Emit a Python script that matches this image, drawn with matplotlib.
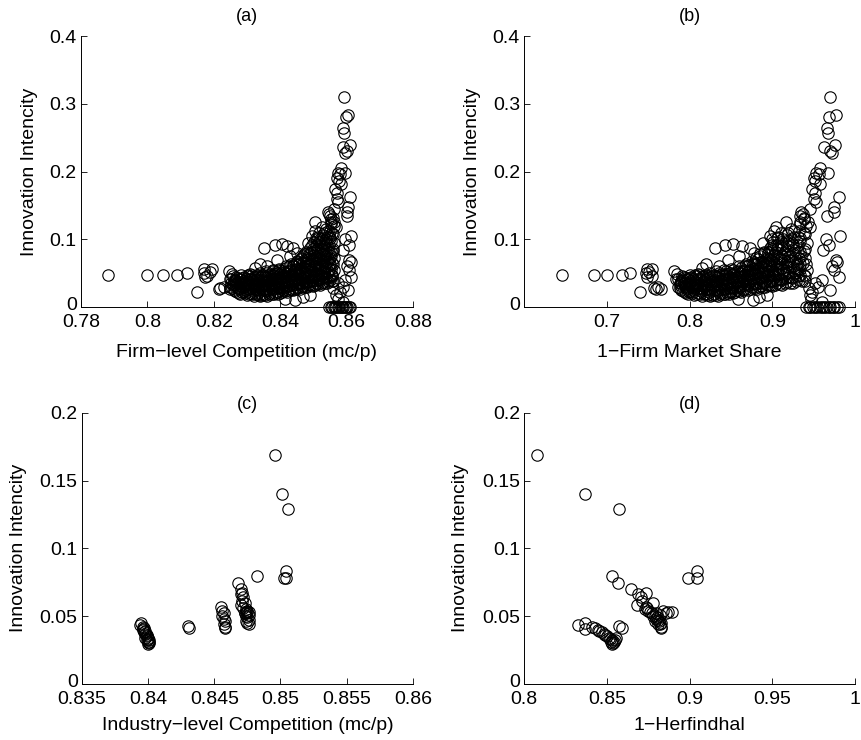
import matplotlib
matplotlib.use('Agg')
import matplotlib.pyplot as plt
from matplotlib.transforms import ScaledTranslation

plt.rcParams['font.family'] = ['Liberation Sans', 'DejaVu Sans']

# ---------------- firm level data (panels a and b share the y values) ----------------
# left tail
tail_innov = [0.047, 0.047, 0.047, 0.047, 0.051, 0.023, 0.050, 0.052, 0.046, 0.044,
              0.056, 0.057, 0.028, 0.030, 0.026, 0.027, 0.049, 0.053]
tail_comp = [0.788, 0.800, 0.8047, 0.809, 0.812, 0.815, 0.817, 0.819, 0.818, 0.8175,
             0.817, 0.8195, 0.822, 0.823, 0.8215, 0.825, 0.8255, 0.8245]
tail_share = [0.646, 0.685, 0.700, 0.718, 0.728, 0.740, 0.747, 0.751, 0.754, 0.749,
              0.748, 0.755, 0.757, 0.762, 0.760, 0.765, 0.785, 0.781]

# dense band, read column by column
blob_innov = [
    0.030, 0.036, 0.042,
    0.025, 0.033, 0.040, 0.046,
    0.022, 0.029, 0.036, 0.043,
    0.020, 0.027, 0.034, 0.041, 0.047,
    0.024, 0.031, 0.038, 0.044,
    0.018, 0.025, 0.032, 0.039, 0.046,
    0.021, 0.028, 0.035, 0.042, 0.049,
    0.017, 0.024, 0.031, 0.038, 0.045,
    0.020, 0.027, 0.034, 0.041, 0.048,
    0.016, 0.023, 0.030, 0.037, 0.044, 0.051,
    0.019, 0.026, 0.033, 0.040, 0.047,
    0.017, 0.024, 0.031, 0.038, 0.045, 0.053,
    0.021, 0.028, 0.035, 0.042, 0.049,
    0.019, 0.026, 0.033, 0.040, 0.047, 0.055,
    0.023, 0.030, 0.037, 0.044, 0.051,
    0.021, 0.028, 0.035, 0.042, 0.049, 0.057,
    0.025, 0.032, 0.039, 0.046, 0.053,
    0.023, 0.030, 0.037, 0.044, 0.051, 0.060,
    0.027, 0.034, 0.041, 0.048, 0.055, 0.063,
    0.025, 0.032, 0.039, 0.046, 0.053, 0.061,
    0.029, 0.036, 0.043, 0.050, 0.057, 0.066,
    0.027, 0.034, 0.041, 0.048, 0.055, 0.063, 0.071,
    0.031, 0.038, 0.045, 0.052, 0.059, 0.067, 0.076,
    0.029, 0.036, 0.043, 0.050, 0.057, 0.065, 0.073, 0.082,
    0.033, 0.040, 0.047, 0.054, 0.061, 0.069, 0.078, 0.088,
    0.031, 0.038, 0.045, 0.052, 0.060, 0.068, 0.077, 0.086, 0.096,
    0.035, 0.042, 0.049, 0.056, 0.064, 0.072, 0.081, 0.091, 0.102,
    0.033, 0.040, 0.047, 0.055, 0.063, 0.071, 0.080, 0.090, 0.100, 0.110,
    0.037, 0.044, 0.051, 0.059, 0.067, 0.075, 0.085, 0.095, 0.106,
    0.035, 0.043, 0.050, 0.058, 0.066, 0.075, 0.084, 0.094, 0.104, 0.116,
    0.040, 0.048, 0.056, 0.064, 0.073, 0.082, 0.092, 0.102, 0.113, 0.125,
    0.038, 0.046, 0.055, 0.064, 0.073, 0.083, 0.095, 0.108, 0.120, 0.132,
]
blob_comp = [
    0.8250, 0.8253, 0.8248,
    0.8260, 0.8257, 0.8263, 0.8259,
    0.8270, 0.8273, 0.8268, 0.8271,
    0.8280, 0.8277, 0.8282, 0.8279, 0.8283,
    0.8290, 0.8293, 0.8288, 0.8291,
    0.8300, 0.8297, 0.8302, 0.8299, 0.8303,
    0.8310, 0.8313, 0.8308, 0.8311, 0.8309,
    0.8320, 0.8317, 0.8322, 0.8319, 0.8321,
    0.8330, 0.8333, 0.8328, 0.8331, 0.8329,
    0.8340, 0.8337, 0.8342, 0.8339, 0.8341, 0.8338,
    0.8350, 0.8353, 0.8348, 0.8351, 0.8349,
    0.8360, 0.8357, 0.8362, 0.8359, 0.8361, 0.8358,
    0.8370, 0.8373, 0.8368, 0.8371, 0.8369,
    0.8380, 0.8377, 0.8382, 0.8379, 0.8381, 0.8378,
    0.8390, 0.8393, 0.8388, 0.8391, 0.8389,
    0.8400, 0.8397, 0.8402, 0.8399, 0.8401, 0.8398,
    0.8410, 0.8413, 0.8408, 0.8411, 0.8409,
    0.8420, 0.8417, 0.8422, 0.8419, 0.8421, 0.8418,
    0.8430, 0.8433, 0.8428, 0.8431, 0.8429, 0.8432,
    0.8440, 0.8437, 0.8442, 0.8439, 0.8441, 0.8438,
    0.8450, 0.8453, 0.8448, 0.8451, 0.8449, 0.8452,
    0.8460, 0.8457, 0.8462, 0.8459, 0.8461, 0.8458, 0.8462,
    0.8470, 0.8473, 0.8468, 0.8471, 0.8469, 0.8472, 0.8468,
    0.8480, 0.8477, 0.8482, 0.8479, 0.8481, 0.8478, 0.8482, 0.8479,
    0.8490, 0.8493, 0.8488, 0.8491, 0.8489, 0.8492, 0.8488, 0.8491,
    0.8500, 0.8497, 0.8502, 0.8499, 0.8501, 0.8498, 0.8502, 0.8499, 0.8501,
    0.8510, 0.8513, 0.8508, 0.8511, 0.8509, 0.8512, 0.8508, 0.8511, 0.8509,
    0.8520, 0.8517, 0.8522, 0.8519, 0.8521, 0.8518, 0.8522, 0.8519, 0.8521, 0.8518,
    0.8530, 0.8533, 0.8528, 0.8531, 0.8529, 0.8532, 0.8528, 0.8531, 0.8529,
    0.8540, 0.8537, 0.8542, 0.8539, 0.8541, 0.8538, 0.8542, 0.8539, 0.8541, 0.8538,
    0.8550, 0.8553, 0.8548, 0.8551, 0.8549, 0.8552, 0.8548, 0.8551, 0.8549, 0.8552,
    0.8560, 0.8557, 0.8562, 0.8559, 0.8561, 0.8558, 0.8562, 0.8559, 0.8561, 0.8558,
]
blob_share = [
    0.786, 0.788, 0.784,
    0.790, 0.789, 0.792, 0.791,
    0.794, 0.796, 0.793, 0.795,
    0.798, 0.797, 0.799, 0.798, 0.800,
    0.801, 0.803, 0.800, 0.802,
    0.805, 0.804, 0.807, 0.806, 0.808,
    0.810, 0.812, 0.809, 0.811, 0.810,
    0.815, 0.814, 0.817, 0.816, 0.815,
    0.820, 0.822, 0.819, 0.821, 0.820,
    0.825, 0.824, 0.827, 0.826, 0.825, 0.823,
    0.830, 0.832, 0.829, 0.831, 0.830,
    0.834, 0.833, 0.836, 0.835, 0.834, 0.832,
    0.839, 0.841, 0.838, 0.840, 0.839,
    0.843, 0.842, 0.845, 0.844, 0.843, 0.841,
    0.848, 0.850, 0.847, 0.849, 0.848,
    0.852, 0.851, 0.854, 0.853, 0.852, 0.850,
    0.857, 0.859, 0.856, 0.858, 0.857,
    0.862, 0.861, 0.864, 0.863, 0.862, 0.860,
    0.866, 0.868, 0.865, 0.867, 0.866, 0.868,
    0.871, 0.870, 0.873, 0.872, 0.871, 0.869,
    0.876, 0.878, 0.875, 0.877, 0.876, 0.878,
    0.881, 0.880, 0.883, 0.882, 0.881, 0.879, 0.883,
    0.886, 0.888, 0.885, 0.887, 0.886, 0.888, 0.885,
    0.891, 0.890, 0.893, 0.892, 0.891, 0.889, 0.893, 0.890,
    0.896, 0.898, 0.895, 0.897, 0.896, 0.898, 0.895, 0.897,
    0.900, 0.899, 0.902, 0.901, 0.900, 0.898, 0.902, 0.899, 0.901,
    0.906, 0.908, 0.905, 0.907, 0.906, 0.908, 0.905, 0.907, 0.906,
    0.912, 0.911, 0.914, 0.913, 0.912, 0.910, 0.914, 0.911, 0.913, 0.910,
    0.918, 0.920, 0.917, 0.919, 0.918, 0.920, 0.917, 0.919, 0.918,
    0.925, 0.924, 0.927, 0.926, 0.925, 0.923, 0.927, 0.924, 0.926, 0.923,
    0.932, 0.934, 0.931, 0.933, 0.932, 0.934, 0.931, 0.933, 0.932, 0.934,
    0.940, 0.939, 0.942, 0.941, 0.940, 0.938, 0.942, 0.939, 0.941, 0.938,
]

# the same band, the columns in between
mid_innov = [
    0.028, 0.035, 0.041,
    0.024, 0.031, 0.038, 0.044,
    0.021, 0.028, 0.035, 0.042,
    0.022, 0.029, 0.036, 0.043,
    0.021, 0.028, 0.035, 0.042,
    0.020, 0.027, 0.034, 0.041, 0.047,
    0.019, 0.026, 0.033, 0.040, 0.047,
    0.019, 0.026, 0.033, 0.040, 0.046,
    0.018, 0.025, 0.032, 0.039, 0.046,
    0.018, 0.025, 0.032, 0.039, 0.046,
    0.018, 0.025, 0.032, 0.039, 0.046, 0.051,
    0.019, 0.026, 0.033, 0.040, 0.047,
    0.020, 0.027, 0.034, 0.041, 0.048, 0.053,
    0.021, 0.028, 0.035, 0.042, 0.049,
    0.022, 0.029, 0.036, 0.043, 0.050, 0.055,
    0.023, 0.030, 0.037, 0.044, 0.051,
    0.024, 0.031, 0.038, 0.045, 0.052, 0.058,
    0.025, 0.032, 0.039, 0.046, 0.053, 0.060,
    0.026, 0.033, 0.040, 0.047, 0.054, 0.062,
    0.027, 0.034, 0.041, 0.048, 0.055, 0.063,
    0.028, 0.035, 0.042, 0.049, 0.056, 0.064, 0.068,
    0.029, 0.036, 0.043, 0.050, 0.058, 0.066, 0.073,
    0.030, 0.037, 0.044, 0.051, 0.060, 0.069, 0.078,
    0.032, 0.039, 0.046, 0.053, 0.062, 0.071, 0.080,
    0.032, 0.039, 0.047, 0.055, 0.064, 0.073, 0.082, 0.091,
    0.033, 0.040, 0.048, 0.056, 0.065, 0.074, 0.083, 0.092,
    0.034, 0.041, 0.049, 0.058, 0.067, 0.076, 0.086, 0.096, 0.104,
    0.035, 0.043, 0.051, 0.060, 0.069, 0.078, 0.088, 0.098,
    0.036, 0.044, 0.052, 0.061, 0.070, 0.080, 0.090, 0.100, 0.110,
    0.038, 0.046, 0.054, 0.063, 0.072, 0.082, 0.092, 0.103, 0.112,
    0.039, 0.047, 0.056, 0.065, 0.075, 0.086, 0.098, 0.110, 0.122,
]
mid_comp = [
    0.8255, 0.8257, 0.8253,
    0.8265, 0.8267, 0.8263, 0.8266,
    0.8275, 0.8277, 0.8273, 0.8276,
    0.8285, 0.8287, 0.8283, 0.8286,
    0.8295, 0.8297, 0.8293, 0.8296,
    0.8305, 0.8307, 0.8303, 0.8306, 0.8304,
    0.8315, 0.8317, 0.8313, 0.8316, 0.8314,
    0.8325, 0.8327, 0.8323, 0.8326, 0.8324,
    0.8335, 0.8337, 0.8333, 0.8336, 0.8334,
    0.8345, 0.8347, 0.8343, 0.8346, 0.8344,
    0.8355, 0.8357, 0.8353, 0.8356, 0.8354, 0.8358,
    0.8365, 0.8367, 0.8363, 0.8366, 0.8364,
    0.8375, 0.8377, 0.8373, 0.8376, 0.8374, 0.8378,
    0.8385, 0.8387, 0.8383, 0.8386, 0.8384,
    0.8395, 0.8397, 0.8393, 0.8396, 0.8394, 0.8398,
    0.8405, 0.8407, 0.8403, 0.8406, 0.8404,
    0.8415, 0.8417, 0.8413, 0.8416, 0.8414, 0.8418,
    0.8425, 0.8427, 0.8423, 0.8426, 0.8424, 0.8428,
    0.8435, 0.8437, 0.8433, 0.8436, 0.8434, 0.8438,
    0.8445, 0.8447, 0.8443, 0.8446, 0.8444, 0.8448,
    0.8455, 0.8457, 0.8453, 0.8456, 0.8454, 0.8458, 0.8452,
    0.8465, 0.8467, 0.8463, 0.8466, 0.8464, 0.8468, 0.8462,
    0.8475, 0.8477, 0.8473, 0.8476, 0.8474, 0.8478, 0.8472,
    0.8485, 0.8487, 0.8483, 0.8486, 0.8484, 0.8488, 0.8482,
    0.8495, 0.8497, 0.8493, 0.8496, 0.8494, 0.8498, 0.8492, 0.8497,
    0.8505, 0.8507, 0.8503, 0.8506, 0.8504, 0.8508, 0.8502, 0.8507,
    0.8515, 0.8517, 0.8513, 0.8516, 0.8514, 0.8518, 0.8512, 0.8517, 0.8513,
    0.8525, 0.8527, 0.8523, 0.8526, 0.8524, 0.8528, 0.8522, 0.8527,
    0.8535, 0.8537, 0.8533, 0.8536, 0.8534, 0.8538, 0.8532, 0.8537, 0.8533,
    0.8545, 0.8547, 0.8543, 0.8546, 0.8544, 0.8548, 0.8542, 0.8547, 0.8543,
    0.8555, 0.8557, 0.8553, 0.8556, 0.8554, 0.8558, 0.8552, 0.8557, 0.8553,
]
mid_share = [
    0.788, 0.790, 0.786,
    0.792, 0.794, 0.790, 0.793,
    0.796, 0.798, 0.794, 0.797,
    0.7995, 0.8015, 0.7975, 0.8005,
    0.803, 0.805, 0.801, 0.804,
    0.8075, 0.8095, 0.8055, 0.8085, 0.8065,
    0.8125, 0.8145, 0.8105, 0.8135, 0.8115,
    0.8175, 0.8195, 0.8155, 0.8185, 0.8165,
    0.8225, 0.8245, 0.8205, 0.8235, 0.8215,
    0.8275, 0.8295, 0.8255, 0.8285, 0.8265,
    0.832, 0.834, 0.830, 0.833, 0.831, 0.835,
    0.8365, 0.8385, 0.8345, 0.8375, 0.8355,
    0.841, 0.843, 0.839, 0.842, 0.840, 0.844,
    0.8455, 0.8475, 0.8435, 0.8465, 0.8445,
    0.850, 0.852, 0.848, 0.851, 0.849, 0.853,
    0.8545, 0.8565, 0.8525, 0.8555, 0.8535,
    0.8595, 0.8615, 0.8575, 0.8605, 0.8585, 0.8625,
    0.864, 0.866, 0.862, 0.865, 0.863, 0.867,
    0.8685, 0.8705, 0.8665, 0.8695, 0.8675, 0.8715,
    0.8735, 0.8755, 0.8715, 0.8745, 0.8725, 0.8765,
    0.8785, 0.8805, 0.8765, 0.8795, 0.8775, 0.8815, 0.8755,
    0.8835, 0.8855, 0.8815, 0.8845, 0.8825, 0.8865, 0.8805,
    0.8885, 0.8905, 0.8865, 0.8895, 0.8875, 0.8915, 0.8855,
    0.8935, 0.8955, 0.8915, 0.8945, 0.8925, 0.8965, 0.8905,
    0.898, 0.900, 0.896, 0.899, 0.897, 0.901, 0.895, 0.900,
    0.903, 0.905, 0.901, 0.904, 0.902, 0.906, 0.900, 0.905,
    0.909, 0.911, 0.907, 0.910, 0.908, 0.912, 0.906, 0.911, 0.907,
    0.915, 0.917, 0.913, 0.916, 0.914, 0.918, 0.912, 0.917,
    0.9215, 0.9235, 0.9195, 0.9225, 0.9205, 0.9245, 0.9185, 0.9235, 0.9195,
    0.9285, 0.9305, 0.9265, 0.9295, 0.9275, 0.9315, 0.9255, 0.9305, 0.9265,
    0.936, 0.938, 0.934, 0.937, 0.935, 0.939, 0.933, 0.938, 0.934,
]

# loose points around the band
over_innov = [0.0866, 0.091, 0.093, 0.090, 0.088, 0.069, 0.063, 0.058, 0.060, 0.075,
              0.080, 0.095, 0.105, 0.112, 0.100, 0.126, 0.118, 0.141, 0.138, 0.135,
              0.130, 0.010, 0.015, 0.018, 0.012, 0.020]
over_comp = [0.835, 0.8385, 0.8405, 0.842, 0.844, 0.839, 0.834, 0.8325, 0.836, 0.843,
             0.845, 0.8485, 0.8495, 0.8505, 0.851, 0.8506, 0.8525, 0.8545, 0.8548, 0.855,
             0.8552, 0.8446, 0.847, 0.849, 0.8415, 0.8395]
over_share = [0.831, 0.843, 0.853, 0.863, 0.873, 0.846, 0.820, 0.815, 0.836, 0.860,
              0.878, 0.889, 0.897, 0.902, 0.899, 0.916, 0.905, 0.935, 0.937, 0.934,
              0.938, 0.877, 0.884, 0.893, 0.858, 0.848]

# the high-intensity column on the right
col_innov = [0.310, 0.281, 0.283, 0.264, 0.257, 0.236, 0.231, 0.240, 0.228, 0.198,
             0.196, 0.198, 0.190, 0.182, 0.168, 0.160, 0.162, 0.155, 0.148, 0.140,
             0.135, 0.105, 0.100, 0.092, 0.085, 0.070, 0.066, 0.060, 0.055, 0.045,
             0.040, 0.030, 0.035, 0.022, 0.018, 0.012, 0.028, 0.025, 0.008,
             0.175, 0.145, 0.125, 0.118, 0.186, 0.205]
col_comp = [0.8593, 0.8598, 0.8605, 0.8590, 0.8591, 0.8590, 0.8600, 0.8610, 0.8596, 0.8574,
            0.8580, 0.8594, 0.8571, 0.8584, 0.8572, 0.8570, 0.8610, 0.8575, 0.8605, 0.8600,
            0.8602, 0.8614, 0.8596, 0.8606, 0.8590, 0.8608, 0.8612, 0.8600, 0.8608, 0.8612,
            0.8595, 0.8590, 0.8575, 0.8580, 0.8568, 0.8575, 0.8560, 0.8603, 0.8590,
            0.8565, 0.8563, 0.8562, 0.8568, 0.8578, 0.8582]
col_share = [0.970, 0.968, 0.977, 0.966, 0.967, 0.963, 0.970, 0.976, 0.972, 0.953,
             0.956, 0.967, 0.950, 0.957, 0.952, 0.950, 0.980, 0.953, 0.975, 0.974,
             0.966, 0.982, 0.965, 0.968, 0.961, 0.977, 0.978, 0.972, 0.975, 0.981,
             0.960, 0.955, 0.952, 0.948, 0.945, 0.947, 0.944, 0.970, 0.960,
             0.948, 0.945, 0.943, 0.946, 0.952, 0.958]

# firms with zero innovation
zero_innov = [0, 0, 0, 0, 0, 0, 0, 0, 0, 0, 0, 0, 0, 0, 0, 0]
zero_comp = [0.8548, 0.8552, 0.8556, 0.8561, 0.8565, 0.8569, 0.8573, 0.8577,
             0.8582, 0.8586, 0.8590, 0.8594, 0.8598, 0.8602, 0.8606, 0.8610]
zero_share = [0.941, 0.944, 0.946, 0.949, 0.952, 0.954, 0.957, 0.960,
              0.962, 0.965, 0.968, 0.970, 0.973, 0.975, 0.978, 0.981]

firm_innov = tail_innov + blob_innov + mid_innov + over_innov + col_innov + zero_innov
firm_comp = tail_comp + blob_comp + mid_comp + over_comp + col_comp + zero_comp
firm_share = tail_share + blob_share + mid_share + over_share + col_share + zero_share

# ---------------- industry level data (panels c and d share the y values) ----------------
ind_innov = [0.169, 0.140, 0.129, 0.083, 0.078, 0.078, 0.0796, 0.0743, 0.070, 0.067,
             0.066, 0.064, 0.061, 0.058, 0.060, 0.056, 0.055, 0.053, 0.052, 0.051,
             0.050, 0.049, 0.047, 0.046, 0.045, 0.044, 0.054, 0.053, 0.053, 0.052,
             0.057, 0.054, 0.052, 0.050, 0.048, 0.046, 0.044, 0.042, 0.041, 0.0423,
             0.0413, 0.0435, 0.0445, 0.0405, 0.042, 0.041, 0.040, 0.039, 0.038, 0.037,
             0.036, 0.035, 0.034, 0.033, 0.032, 0.031, 0.030, 0.029, 0.032, 0.034,
             0.031]
ind_comp = [0.8496, 0.8501, 0.8506, 0.8504, 0.8503, 0.8504, 0.8482, 0.8468, 0.8470, 0.8471,
            0.8470, 0.8472, 0.8471, 0.8470, 0.8473, 0.8472, 0.8474, 0.8475, 0.8473, 0.8476,
            0.8474, 0.8475, 0.8476, 0.8474, 0.8475, 0.8476, 0.8475, 0.8474, 0.8476, 0.8473,
            0.8455, 0.8456, 0.8457, 0.8456, 0.8457, 0.8458, 0.8457, 0.8458, 0.8458, 0.8430,
            0.8431, 0.8394, 0.8395, 0.8396, 0.8396, 0.8397, 0.8396, 0.8398, 0.8397, 0.8398,
            0.8399, 0.8399, 0.8400, 0.8400, 0.8401, 0.8400, 0.8401, 0.8400, 0.8399, 0.8398,
            0.8401]
ind_herf = [0.808, 0.8365, 0.8574, 0.9045, 0.8992, 0.9047, 0.853, 0.857, 0.8647, 0.8735,
            0.869, 0.8705, 0.871, 0.8685, 0.878, 0.874, 0.873, 0.876, 0.880, 0.882,
            0.878, 0.8805, 0.881, 0.879, 0.8825, 0.881, 0.884, 0.887, 0.8895, 0.886,
            0.8735, 0.875, 0.877, 0.879, 0.880, 0.8815, 0.882, 0.883, 0.8825, 0.8573,
            0.859, 0.8323, 0.8365, 0.8365, 0.841, 0.843, 0.8445, 0.8455, 0.847, 0.848,
            0.849, 0.850, 0.851, 0.852, 0.853, 0.8525, 0.8535, 0.853, 0.855, 0.8555,
            0.8545]

# axis settings
ylabel = 'Innovation Intencity'
xlabels = ['Firm\u2212level Competition (mc/p)', '1\u2212Firm Market Share',
           'Industry\u2212level Competition (mc/p)', '1\u2212Herfindhal']
titles = ['(a)', '(b)', '(c)', '(d)']

a_xticks = [0.78, 0.80, 0.82, 0.84, 0.86, 0.88]
a_xticklabels = ['0.78', '0.8', '0.82', '0.84', '0.86', '0.88']
b_xticks = [0.7, 0.8, 0.9, 1.0]
b_xticklabels = ['0.7', '0.8', '0.9', '1']
c_xticks = [0.835, 0.84, 0.845, 0.85, 0.855, 0.86]
c_xticklabels = ['0.835', '0.84', '0.845', '0.85', '0.855', '0.86']
d_xticks = [0.8, 0.85, 0.9, 0.95, 1.0]
d_xticklabels = ['0.8', '0.85', '0.9', '0.95', '1']
top_yticks = [0, 0.1, 0.2, 0.3, 0.4]
top_yticklabels = ['0', '0.1', '0.2', '0.3', '0.4']
bot_yticks = [0, 0.05, 0.1, 0.15, 0.2]
bot_yticklabels = ['0', '0.05', '0.1', '0.15', '0.2']


def draw_panel(ax, x, y, xlim, xticks, xticklabels, ylim, yticks, yticklabels,
               xlabel, title, title_pad, ylabel_x, xlabel_pad):
    """ open circle scatter in the old matlab look """
    ax.plot(x, y, 'o', mfc='none', mec='k', ms=8.2, mew=0.8, clip_on=False, zorder=3)
    ax.set_xlim(xlim)
    ax.set_ylim(ylim)
    ax.set_xticks(xticks)
    ax.set_xticklabels(xticklabels)
    ax.set_yticks(yticks)
    ax.set_yticklabels(yticklabels)
    ax.tick_params(direction='in', length=4, width=0.6, labelsize=14)
    ax.tick_params(axis='x', pad=5)
    ax.tick_params(axis='y', pad=3)
    # the "0" of the y axis sits a bit above the corner, like in matlab
    zero_lab = ax.get_yticklabels()[0]
    zero_lab.set_transform(zero_lab.get_transform() +
                           ScaledTranslation(0, 2.5 / 72, ax.figure.dpi_scale_trans))
    for s in ['top', 'right']:
        ax.spines[s].set_visible(False)
    for s in ['left', 'bottom']:
        ax.spines[s].set_linewidth(0.7)
    ax.set_xlabel(xlabel, fontsize=14, labelpad=xlabel_pad)
    ax.set_ylabel(ylabel, fontsize=14)
    ax.yaxis.set_label_coords(ylabel_x, 0.5)
    ax.set_title(title, fontsize=13, pad=title_pad)


fig = plt.figure(figsize=(8.62, 7.40), dpi=100)
ax_a = fig.add_axes([0.094, 0.585, 0.385, 0.366])
ax_b = fig.add_axes([0.608, 0.585, 0.384, 0.366])
ax_c = fig.add_axes([0.095, 0.076, 0.384, 0.366])
ax_d = fig.add_axes([0.608, 0.076, 0.384, 0.366])

draw_panel(ax_a, firm_comp, firm_innov, (0.78, 0.88), a_xticks, a_xticklabels,
           (0, 0.4), top_yticks, top_yticklabels, xlabels[0], titles[0], 11, -0.13, 9)
draw_panel(ax_b, firm_share, firm_innov, (0.6, 1.0), b_xticks, b_xticklabels,
           (0, 0.4), top_yticks, top_yticklabels, xlabels[1], titles[1], 11, -0.13, 9)
draw_panel(ax_c, ind_comp, ind_innov, (0.835, 0.86), c_xticks, c_xticklabels,
           (0, 0.2), bot_yticks, bot_yticklabels, xlabels[2], titles[2], 3, -0.165, 7)
draw_panel(ax_d, ind_herf, ind_innov, (0.8, 1.0), d_xticks, d_xticklabels,
           (0, 0.2), bot_yticks, bot_yticklabels, xlabels[3], titles[3], 3, -0.165, 7)

fig.savefig('out.png', dpi=100)
